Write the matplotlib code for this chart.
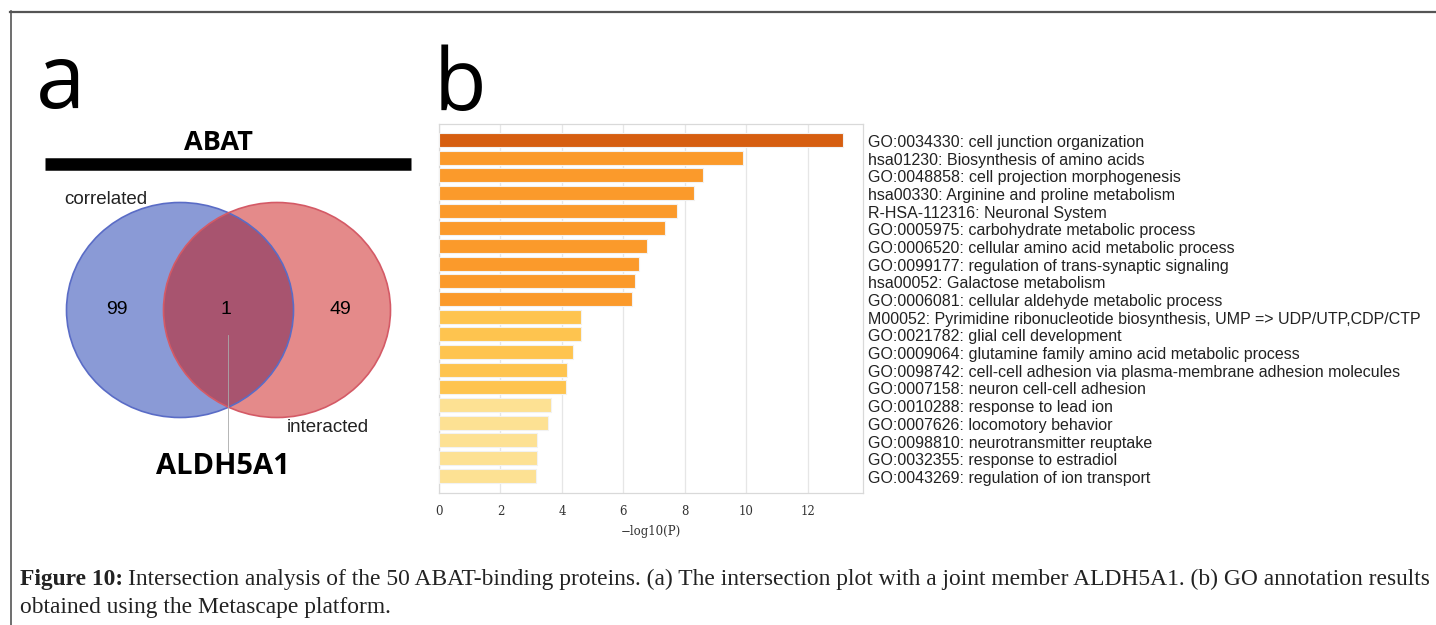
import matplotlib
matplotlib.use("Agg")
import matplotlib.pyplot as plt
from matplotlib.patches import Ellipse

W, H = 1436, 625

# Venn panel
set_title = "ABAT"
set_names = ["correlated", "interacted"]
venn_counts = [99, 1, 49]          # only correlated, shared, only interacted
shared_member = "ALDH5A1"

# enrichment panel
terms = [
    "GO:0034330: cell junction organization",
    "hsa01230: Biosynthesis of amino acids",
    "GO:0048858: cell projection morphogenesis",
    "hsa00330: Arginine and proline metabolism",
    "R-HSA-112316: Neuronal System",
    "GO:0005975: carbohydrate metabolic process",
    "GO:0006520: cellular amino acid metabolic process",
    "GO:0099177: regulation of trans-synaptic signaling",
    "hsa00052: Galactose metabolism",
    "GO:0006081: cellular aldehyde metabolic process",
    "M00052: Pyrimidine ribonucleotide biosynthesis, UMP => UDP/UTP,CDP/CTP",
    "GO:0021782: glial cell development",
    "GO:0009064: glutamine family amino acid metabolic process",
    "GO:0098742: cell-cell adhesion via plasma-membrane adhesion molecules",
    "GO:0007158: neuron cell-cell adhesion",
    "GO:0010288: response to lead ion",
    "GO:0007626: locomotory behavior",
    "GO:0098810: neurotransmitter reuptake",
    "GO:0032355: response to estradiol",
    "GO:0043269: regulation of ion transport",
]
neg_log_p = [13.14, 9.89, 8.57, 8.29, 7.75, 7.36, 6.75, 6.50, 6.39, 6.29,
             4.62, 4.62, 4.35, 4.15, 4.13, 3.65, 3.56, 3.18, 3.18, 3.16]
x_ticks = [0, 2, 4, 6, 8, 10, 12]


def bar_color(v):
    if v > 10:
        return "#d65e10"
    if v > 6:
        return "#fb9a2b"
    if v > 4:
        return "#fec44f"
    return "#fde193"


fig = plt.figure(figsize=(W / 100, H / 100), dpi=100)

# full-figure canvas in pixel units for panel a, letters, frame and caption
cv = fig.add_axes([0, 0, 1, 1])
cv.set_xlim(0, W)
cv.set_ylim(H, 0)
cv.axis("off")

# frame lines (top and left only)
cv.plot([10, W], [11.5, 11.5], color="#555555", lw=1.6)
cv.plot([10.5, 10.5], [11, H], color="#555555", lw=1.2)

cv.text(36, 108, "a", fontsize=64, family="Open Sans", color="black")
cv.text(434, 110, "b", fontsize=62, family="Open Sans", color="black")

# panel a
cv.text(218, 143, set_title, fontsize=19.5, fontweight="bold", family="Open Sans",
        ha="center", va="center")
cv.plot([45, 411], [164, 164], color="black", lw=9, solid_capstyle="butt")

blue_c, red_c = (180, 310), (277, 310)
ew, eh = 227, 215
blue = Ellipse(blue_c, ew, eh, facecolor="#8a9ad6", edgecolor="none", zorder=2)
red = Ellipse(red_c, ew, eh, facecolor="#e48a8a", edgecolor="none", zorder=3)
cv.add_patch(blue)
cv.add_patch(red)
lens = Ellipse(red_c, ew, eh, facecolor="#a8546f", edgecolor="none", zorder=4)
cv.add_patch(lens)
lens.set_clip_path(blue)
cv.add_patch(Ellipse(blue_c, ew, eh, facecolor="none", edgecolor="#5a6cc6", lw=1.2, zorder=5))
cv.add_patch(Ellipse(red_c, ew, eh, facecolor="none", edgecolor="#d45a66", lw=1.2, zorder=5))

num_kw = dict(fontsize=14, family="Liberation Sans", ha="center", va="center", zorder=6)
cv.text(117, 310, str(venn_counts[0]), **num_kw)
cv.text(226, 310, str(venn_counts[1]), **num_kw)
cv.text(340, 310, str(venn_counts[2]), **num_kw)

cv.text(64, 199, set_names[0], fontsize=13.5, family="Liberation Sans", va="center",
        color="#222222", zorder=6)
cv.text(287, 428, set_names[1], fontsize=13.5, family="Liberation Sans", va="center",
        color="#222222", zorder=6)

cv.plot([228, 228], [335, 452], color="#aaaaaa", lw=0.6, zorder=6)
cv.text(223, 466, shared_member, fontsize=21, fontweight="bold", family="Open Sans",
        ha="center", va="center")

# caption
cap_kw = dict(fontsize=16.9, family="Liberation Serif", color="#222222", va="center")
t = cv.text(20, 579, "Figure 10:", fontweight="bold", **cap_kw)
fig.canvas.draw()
bb = t.get_window_extent()
cv.text(20 + bb.width + 5, 579,
        "Intersection analysis of the 50 ABAT-binding proteins. (a) The intersection plot "
        "with a joint member ALDH5A1. (b) GO annotation results", **cap_kw)
cv.text(20, 608, "obtained using the Metascape platform.", **cap_kw)

# panel b: bar chart
x0, x1, y0, y1 = 439, 863, 124, 492.5
ax = fig.add_axes([x0 / W, 1 - y1 / H, (x1 - x0) / W, (y1 - y0) / H])
pos = list(range(len(terms)))
ax.barh(pos, neg_log_p, height=0.8, color=[bar_color(v) for v in neg_log_p],
        edgecolor="#f2f2f2", lw=0.8, zorder=3)
ax.set_ylim(len(terms) - 1 + 0.95, -0.9)
ax.set_xlim(0, 13.79)
ax.set_xticks(x_ticks)
ax.set_xticklabels([str(v) for v in x_ticks], family="DejaVu Serif", fontsize=8.5,
                   color="#333333")
ax.tick_params(axis="x", length=0, pad=9)
ax.set_yticks([])
ax.grid(axis="x", color="#e6e6e6", lw=0.9, zorder=0)
for s in ax.spines.values():
    s.set_color("#d9d9d9")
    s.set_linewidth(0.9)
ax.set_xlabel("\u2212log10(P)", family="DejaVu Serif", fontsize=8.5, color="#333333",
              labelpad=5)

for p, term in zip(pos, terms):
    ax.text(13.79 + 5 / 30.75, p + 0.15, term, fontsize=11.5, family="Liberation Sans",
            color="#222222", va="center", ha="left", clip_on=False)

fig.savefig("out.png", dpi=100)
